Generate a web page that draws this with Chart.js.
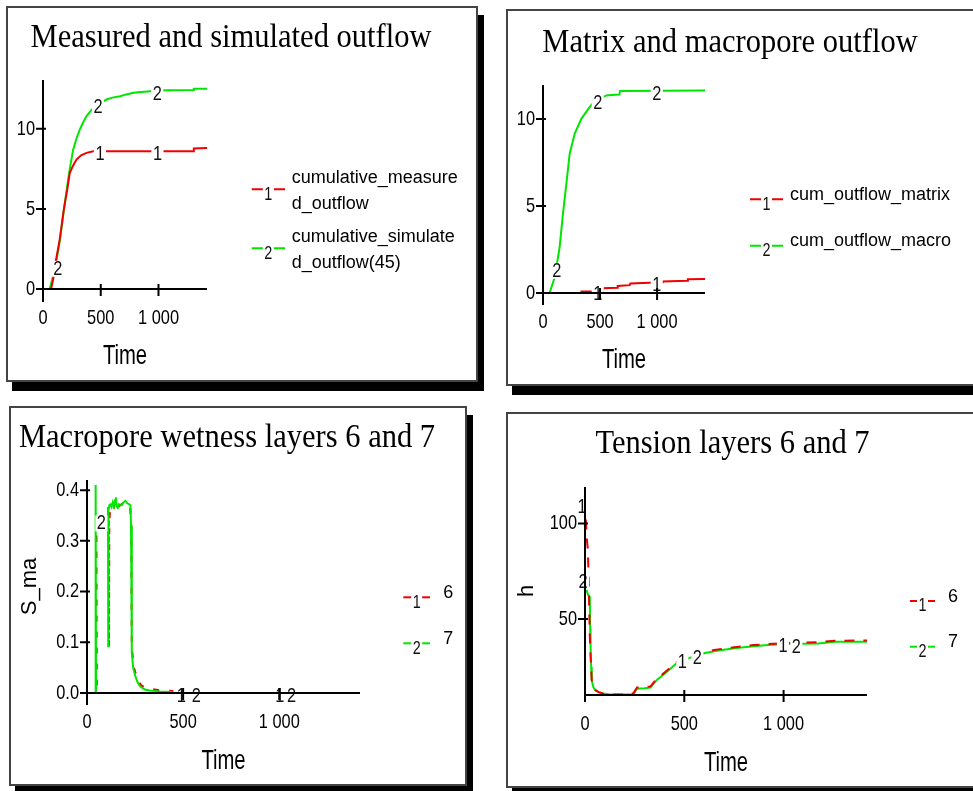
<!DOCTYPE html>
<html>
<head>
<meta charset="utf-8">
<script src="https://cdn.jsdelivr.net/npm/chart.js@4.4.1/dist/chart.umd.min.js"></script>
<style>
  html, body { margin: 0; padding: 0; background: #fff; }
  body { width: 973px; height: 791px; position: relative; overflow: hidden; }
  .frame { position: absolute; box-sizing: border-box; border: 2px solid #444; background: #fff; box-shadow: 6px 9px 0 #000; }
  canvas { position: absolute; }
</style>
</head>
<body>
<div class="frame" style="left:6px;top:6px;width:472px;height:376px"></div>
<div class="frame" style="left:506px;top:9px;width:480px;height:377px"></div>
<div class="frame" style="left:9px;top:406px;width:458px;height:380px"></div>
<div class="frame" style="left:506px;top:412px;width:480px;height:376px"></div>
<canvas id="outflow" width="490" height="395" style="left:0;top:0"></canvas>
<canvas id="components" width="478" height="395" style="left:495px;top:0"></canvas>
<canvas id="wetness" width="490" height="393" style="left:0;top:398px"></canvas>
<canvas id="tension" width="478" height="393" style="left:495px;top:398px"></canvas>
<script>
// ---- shared axis values ----
const timeMax = 1420;
const xTickValues = [0, 500, 1000];
const xTickLabels = ['0', '500', '1 000'];
const xAxisTitle = 'Time';

const panelTitles = [
  'Measured and simulated outflow',
  'Matrix and macropore outflow',
  'Macropore wetness layers 6 and 7',
  'Tension layers 6 and 7'
];

// ---- cumulative outflow: measured vs simulated ----
const tMeasured = [0, 70, 87, 110, 145, 180, 210, 232, 260, 290, 330, 377, 435, 1300, 1306, 1420];
const cumMeasured = [0, 0, 0.58, 1.7, 3.1, 4.96, 6.2, 7.25, 7.7, 8.08, 8.35, 8.5, 8.6, 8.6, 8.78, 8.8];
const tSimulated = [0, 58, 87, 100, 145, 189, 226, 261, 290, 319, 350, 377, 405, 430, 470, 551, 600, 667, 720, 785, 850, 928, 1000, 1073, 1300, 1306, 1420];
const cumSimulated = [0, 0, 0.79, 1.1, 2.97, 5.37, 7.25, 8.7, 9.4, 9.96, 10.45, 10.8, 11.05, 11.25, 11.5, 11.83, 11.95, 12.04, 12.15, 12.25, 12.3, 12.35, 12.38, 12.41, 12.42, 12.5, 12.5];
const outflowYTicks = [0, 5, 10];
const outflowYLabels = ['0', '5', '10'];

// ---- matrix and macropore outflow ----
const tMatrix = [0, 335, 337, 520, 525, 650, 655, 760, 766, 1045, 1050, 1265, 1270, 1420];
const cumMatrix = [0, 0, 0.08, 0.1, 0.27, 0.3, 0.4, 0.45, 0.55, 0.62, 0.66, 0.7, 0.79, 0.8];
const tMacro = [0, 58, 103, 146, 175, 205, 234, 278, 337, 410, 450, 556, 600, 670, 675, 1420];
const cumMacro = [0, 0, 0.92, 2.64, 4.56, 6.29, 8.0, 9.16, 10.02, 10.69, 11.0, 11.35, 11.38, 11.4, 11.6, 11.63];

// ---- macropore wetness S_ma, layers 6 and 7 ----
const tWet6 = [0, 47, 49, 51, 105, 106, 113, 114.5, 116, 120, 128, 140, 150, 160, 172, 190, 210, 224, 230, 233, 237, 244, 254, 266, 280, 304, 330, 384, 444, 445, 1420];
const wet6 = [0, 0, 0.32, 0, 0, null, 0.34, 0.09, 0.33, 0.366, 0.37, 0.366, 0.38, 0.366, 0.37, 0.375, 0.372, 0.37, 0.33, 0.09, 0.075, 0.05, 0.038, 0.025, 0.016, 0.01, 0.008, 0.005, 0.004, 0, 0];
const tWet7 = [0, 43, 45, 47, 105, 106, 109, 110.5, 112, 116, 122, 128, 134, 140, 146, 150, 154, 160, 166, 172, 180, 190, 200, 210, 220, 226, 229, 233, 240, 250, 262, 276, 300, 326, 380, 440, 441, 1420];
const wet7 = [0, 0, 0.41, 0, 0, null, 0.367, 0.092, 0.36, 0.37, 0.372, 0.367, 0.376, 0.368, 0.38, 0.386, 0.368, 0.365, 0.372, 0.37, 0.37, 0.376, 0.379, 0.374, 0.372, 0.37, 0.33, 0.08, 0.05, 0.035, 0.022, 0.013, 0.007, 0.005, 0.003, 0.002, 0, 0];
const wetYTicks = [0, 0.1, 0.2, 0.3, 0.4];
const wetYLabels = ['0.0', '0.1', '0.2', '0.3', '0.4'];

// ---- tension h, layers 6 and 7 ----
const tTension = [0, 5, 10, 13, 17, 20, 24, 26, 28, 31, 34, 42, 51, 68, 90, 110, 130, 228, 245, 262, 300, 330, 345, 363, 390, 414, 440, 465, 510, 560, 600, 650, 700, 752, 850, 921, 1000, 1100, 1174, 1259, 1420];
const h6 = [112, 100, 91, 88, 77, 62, 42, 36, 31, 24, 18, 14.6, 13, 11.8, 11.1, 10.8, 10.5, 10.5, 11.4, 14.2, 14.4, 14.8, 16.8, 18.9, 21.1, 23.2, 25.6, 27.8, 29.6, 31.6, 32.7, 33.8, 34.6, 35.3, 36.4, 37.0, 37.4, 37.7, 37.9, 38.7, 38.8];
const h7 = [70, 66.5, 64.5, 63.5, 62.5, 62, 61.7, 45, 36, 25, 18, 14.5, 12.8, 11.8, 11.1, 10.8, 10.5, 10.5, 11, 13.6, 13.8, 14.2, 16.2, 18.3, 20.5, 22.6, 25, 27.2, 29, 31, 32.1, 33.2, 34.0, 34.7, 35.8, 36.4, 36.8, 37.1, 37.3, 38.1, 38.2];
const tensionYTicks = [50, 100];
const tensionYLabels = ['50', '100'];

// ---- styling ----
const FONT_SANS = "'Liberation Sans', Arial, sans-serif";
const FONT_SERIF = "'Liberation Serif', 'Times New Roman', serif";
const RED = '#f00000';
const GREEN = '#00e600';
const NUM_SIZE = 21, NUM_SQUEEZE = 0.78;   // axis numbers and trace numbers

function points(ts, vs) {
  return ts.map((t, i) => ({ x: t, y: vs[i] }));
}

function valueAt(data, t) {
  for (let i = 0; i < data.length - 1; i++) {
    const p = data[i], q = data[i + 1];
    if (p.y == null || q.y == null) continue;
    if (t >= p.x && t <= q.x) {
      return q.x === p.x ? p.y : p.y + (q.y - p.y) * (t - p.x) / (q.x - p.x);
    }
  }
  return data[data.length - 1].y;
}

function wrapText(ctx, text, maxWidth) {
  const lines = [];
  let cur = '';
  for (const ch of text) {
    if (cur && ctx.measureText(cur + ch).width > maxWidth) {
      lines.push(cur);
      cur = ch;
    } else {
      cur += ch;
    }
  }
  if (cur) lines.push(cur);
  return lines;
}

// Horizontally condensed text (the worksheet uses a narrow face).
function squeezedText(ctx, text, x, y, font, sx, align) {
  ctx.save();
  ctx.font = font;
  ctx.translate(x, y);
  ctx.scale(sx, 1);
  ctx.textAlign = align;
  ctx.fillText(text, 0, 0);
  const w = ctx.measureText(text).width * sx;
  ctx.restore();
  return w;
}

// Worksheet-style decorations: axis numbers, numbered trace labels,
// crossing axes, panel title and the numbered legend on the right.
function worksheetDecor(cfg) {
  return {
    id: 'worksheetDecor',
    afterDatasetsDraw(chart) {
      const ctx = chart.ctx, a = chart.chartArea;
      const xs = chart.scales.x, ys = chart.scales.y;
      const numFont = NUM_SIZE + 'px ' + FONT_SANS;
      ctx.save();
      ctx.textBaseline = 'middle';

      // trace numbers sitting on the curves
      cfg.traceLabels.forEach(l => {
        const ds = chart.data.datasets[l.ds];
        const v = (l.v !== undefined) ? l.v : valueAt(ds.data, l.t);
        const txt = String(l.ds + 1);
        const x = xs.getPixelForValue(l.t) + (l.dx || 0);
        const y = ys.getPixelForValue(v) + 3;
        ctx.font = numFont;
        const w = ctx.measureText(txt).width * NUM_SQUEEZE;
        ctx.fillStyle = '#fff';
        ctx.fillRect(x - w / 2 - 1.5, y - 8, w + 3, 16);
        ctx.fillStyle = '#111';
        squeezedText(ctx, txt, x, y, numFont, NUM_SQUEEZE, 'center');
      });

      // tick numbers
      ctx.fillStyle = '#000';
      xs.ticks.forEach(t => {
        const i = xTickValues.indexOf(t.value);
        squeezedText(ctx, xTickLabels[i], xs.getPixelForValue(t.value), a.bottom + 29.5, numFont, NUM_SQUEEZE, 'center');
      });
      ys.ticks.forEach(t => {
        const i = cfg.yTicks.indexOf(t.value);
        squeezedText(ctx, cfg.yLabels[i], a.left - 8, ys.getPixelForValue(t.value), numFont, NUM_SQUEEZE, 'right');
      });
      squeezedText(ctx, xAxisTitle, (a.left + a.right) / 2, cfg.timeY, '27px ' + FONT_SANS, 0.75, 'center');

      // axes with crossing ticks
      ctx.strokeStyle = '#000';
      ctx.lineWidth = 2;
      ctx.beginPath();
      ctx.moveTo(a.left, a.top);
      ctx.lineTo(a.left, a.bottom + cfg.axisExt);
      ctx.moveTo(a.left, a.bottom);
      ctx.lineTo(a.right, a.bottom);
      xs.ticks.forEach(t => {
        const x = xs.getPixelForValue(t.value);
        if (x > a.left + 1) {
          ctx.moveTo(x, a.bottom - 5);
          ctx.lineTo(x, a.bottom + 7);
        }
      });
      ys.ticks.forEach(t => {
        const y = ys.getPixelForValue(t.value);
        ctx.moveTo(a.left - 7, y);
        ctx.lineTo(a.left + 3, y);
      });
      ctx.stroke();
      ctx.restore();
    },
    afterDraw(chart) {
      const ctx = chart.ctx;
      ctx.save();
      ctx.fillStyle = '#000';
      ctx.textBaseline = 'alphabetic';
      squeezedText(ctx, cfg.title, cfg.titleX, cfg.titleY, '33px ' + FONT_SERIF, 0.925, 'center');

      const lg = cfg.legend;
      chart.data.datasets.forEach((ds, i) => {
        const ly = lg.lineY[i];
        ctx.strokeStyle = ds.borderColor;
        ctx.lineWidth = 2;
        ctx.beginPath();
        ctx.moveTo(lg.x0, ly);
        ctx.lineTo(lg.x0 + lg.w, ly);
        ctx.stroke();

        const num = String(i + 1);
        const cx = lg.x0 + lg.w / 2, cy = ly + 5.5;
        const numFont = '18px ' + FONT_SANS;
        ctx.font = numFont;
        const dw = ctx.measureText(num).width * 0.8;
        ctx.textBaseline = 'middle';
        ctx.fillStyle = '#fff';
        ctx.fillRect(cx - dw / 2 - 1.5, cy - 7, dw + 3, 14);
        ctx.fillStyle = '#111';
        squeezedText(ctx, num, cx, cy, numFont, 0.8, 'center');

        ctx.font = '18px ' + FONT_SANS;
        ctx.textAlign = 'left';
        ctx.textBaseline = 'alphabetic';
        ctx.fillStyle = '#000';
        const lines = wrapText(ctx, ds.label, lg.wrap || 400);
        const b0 = ly + 0.7 - (lines.length - 1) * 7.3;
        lines.forEach((s, k) => ctx.fillText(s, lg.textX, b0 + k * 26.6));
      });
      ctx.restore();
    }
  };
}

function buildChart(id, cfg) {
  return new Chart(document.getElementById(id), {
    type: 'line',
    data: { datasets: cfg.datasets },
    options: {
      responsive: false,
      maintainAspectRatio: false,
      animation: false,
      devicePixelRatio: 1,
      events: [],
      layout: { padding: cfg.padding },
      elements: { point: { radius: 0 }, line: { tension: 0, borderWidth: 2 } },
      scales: {
        x: {
          type: 'linear',
          min: 0,
          max: timeMax,
          afterBuildTicks: s => { s.ticks = xTickValues.map(v => ({ value: v })); },
          afterFit: s => { s.height = cfg.xHeight; },
          grid: { display: false, drawTicks: false },
          border: { display: false },
          ticks: { display: false },
          title: { display: false }
        },
        y: {
          type: 'linear',
          min: cfg.yMin,
          max: cfg.yMax,
          afterBuildTicks: s => { s.ticks = cfg.yTicks.map(v => ({ value: v })); },
          afterFit: s => { s.width = cfg.yWidth; },
          grid: { display: false, drawTicks: false },
          border: { display: false },
          ticks: { display: false },
          title: cfg.yTitle ? {
            display: true,
            text: cfg.yTitle,
            color: '#000',
            font: { family: FONT_SANS, size: 22 },
            padding: { top: cfg.yTitlePad, bottom: 0 }
          } : { display: false }
        }
      },
      plugins: { legend: { display: false }, tooltip: { enabled: false } }
    },
    plugins: [worksheetDecor(cfg)]
  });
}

buildChart('outflow', {
  title: panelTitles[0], titleX: 231, titleY: 47,
  padding: { left: 0, top: 80, right: 283, bottom: 0 },
  yWidth: 43, xHeight: 106, timeY: 356.7, axisExt: 13,
  yMin: 0, yMax: 13.05, yTicks: outflowYTicks, yLabels: outflowYLabels,
  datasets: [
    { label: 'cumulative_measured_outflow', data: points(tMeasured, cumMeasured), borderColor: RED },
    { label: 'cumulative_simulated_outflow(45)', data: points(tSimulated, cumSimulated), borderColor: GREEN }
  ],
  traceLabels: [
    { ds: 1, t: 128, v: 1.45 }, { ds: 1, t: 476 }, { ds: 1, t: 989 },
    { ds: 0, t: 493 }, { ds: 0, t: 991 }
  ],
  legend: { x0: 251.7, w: 33.3, textX: 291.7, lineY: [189.3, 248.3], wrap: 170 }
});

buildChart('components', {
  title: panelTitles[1], titleX: 235, titleY: 52,
  padding: { left: 0, top: 85, right: 268, bottom: 0 },
  yWidth: 48, xHeight: 102, timeY: 360.8, axisExt: 12,
  yMin: 0, yMax: 11.95, yTicks: outflowYTicks, yLabels: outflowYLabels,
  datasets: [
    { label: 'cum_outflow_matrix', data: points(tMatrix, cumMatrix), borderColor: RED },
    { label: 'cum_outflow_macro', data: points(tMacro, cumMacro), borderColor: GREEN }
  ],
  traceLabels: [
    { ds: 1, t: 120, v: 1.45 }, { ds: 1, t: 480 }, { ds: 1, t: 997 },
    { ds: 0, t: 480 }, { ds: 0, t: 997 }
  ],
  legend: { x0: 255, w: 33, textX: 295, lineY: [199.3, 245.7] }
});

buildChart('wetness', {
  title: panelTitles[2], titleX: 227, titleY: 48.7,
  padding: { left: 0, top: 82, right: 130, bottom: 0 },
  yWidth: 87, xHeight: 98, timeY: 363.7, axisExt: 12,
  yTitle: 'S_ma', yTitlePad: 16.8,
  yMin: 0, yMax: 0.42, yTicks: wetYTicks, yLabels: wetYLabels,
  datasets: [
    { label: '6', data: points(tWet6, wet6), borderColor: RED, borderDash: [6, 10], order: 1 },
    { label: '7', data: points(tWet7, wet7), borderColor: GREEN, order: 0 }
  ],
  traceLabels: [
    { ds: 1, t: 75, v: 0.34 },
    { ds: 0, t: 491 }, { ds: 1, t: 569 },
    { ds: 0, t: 1003 }, { ds: 1, t: 1064 }
  ],
  legend: { x0: 403.3, w: 26.7, textX: 443.3, lineY: [199.3, 245.3] }
});

buildChart('tension', {
  title: panelTitles[3], titleX: 237.5, titleY: 55.3,
  padding: { left: 0, top: 89, right: 106, bottom: 0 },
  yWidth: 90, xHeight: 96, timeY: 365.3, axisExt: 7,
  yTitle: 'h', yTitlePad: 18.8,
  yMin: 10.3, yMax: 119.1, yTicks: tensionYTicks, yLabels: tensionYLabels,
  datasets: [
    { label: '6', data: points(tTension, h6), borderColor: RED, borderDash: [10, 9] },
    { label: '7', data: points(tTension, h7), borderColor: GREEN }
  ],
  traceLabels: [
    { ds: 0, t: 0, v: 110, dx: -3 }, { ds: 1, t: 0, v: 71, dx: -2 },
    { ds: 0, t: 490 }, { ds: 1, t: 566 },
    { ds: 0, t: 997 }, { ds: 1, t: 1064 }
  ],
  legend: { x0: 415, w: 25, textX: 453, lineY: [203, 248.7] }
});
</script>
</body>
</html>
